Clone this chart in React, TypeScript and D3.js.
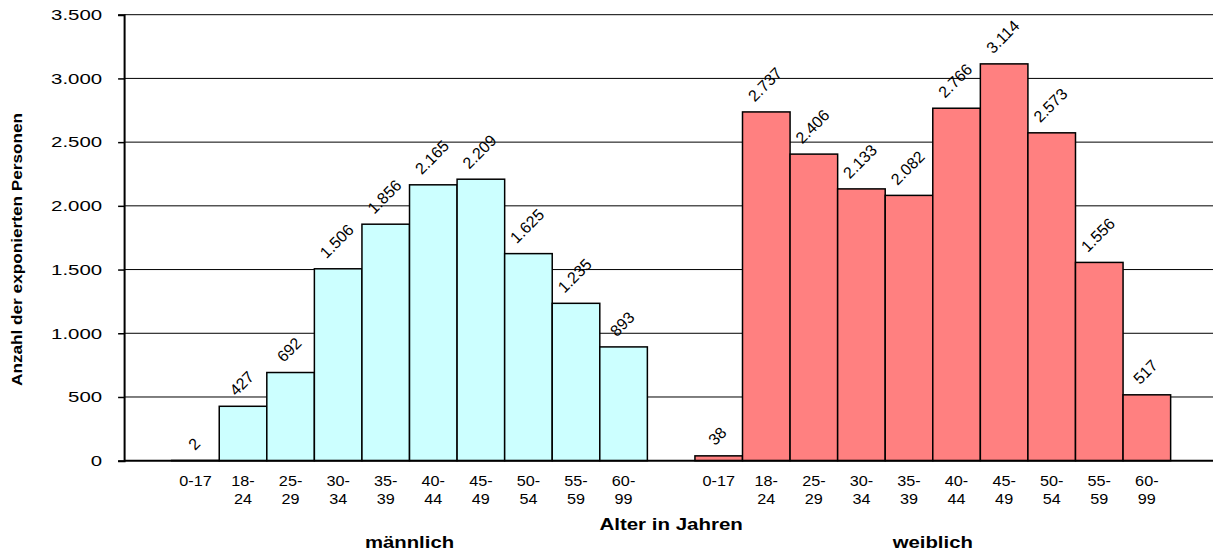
import * as d3 from 'd3';
import React, { useEffect, useRef } from 'react';

// Altersgruppen und Werte je Geschlecht
const ageGroups = ['0-17', '18-24', '25-29', '30-34', '35-39', '40-44', '45-49', '50-54', '55-59', '60-99'];
const maleValues = [2, 427, 692, 1506, 1856, 2165, 2209, 1625, 1235, 893];
const femaleValues = [38, 2737, 2406, 2133, 2082, 2766, 3114, 2573, 1556, 517];
const yTicks = [0, 500, 1000, 1500, 2000, 2500, 3000, 3500];
const groupLabels = ['männlich', 'weiblich'];
const groupColors = ['#ccffff', '#ff8080'];
const xTitle = 'Alter in Jahren';
const yTitle = 'Anzahl der exponierten Personen';

const width = 1213;
const height = 556;
const plot = { left: 124.1, right: 1218.2, top: 14.7, bottom: 460.7 };
const font = "'Liberation Sans', Arial, sans-serif";

const de = d3.formatLocale({ decimal: ',', thousands: '.', grouping: [3], currency: ['', ' €'] });
const fmt = de.format(',d');

// Text horizontal dehnen (Originalschrift läuft breiter)
const stretch = (sel: d3.Selection<SVGTextElement, any, any, any>, k: number) =>
  sel.each(function () {
    const w = this.getComputedTextLength();
    this.setAttribute('textLength', String(w * k));
    this.setAttribute('lengthAdjust', 'spacingAndGlyphs');
  });

const App = () => {
  const svgRef = useRef<SVGSVGElement>(null);

  useEffect(() => {
    const svg = d3.select(svgRef.current);
    svg.selectAll('*').remove();

    const slots = [
      'pad-l',
      ...ageGroups.map((a) => `m|${a}`),
      'gap',
      ...ageGroups.map((a) => `w|${a}`),
      'pad-r',
    ];
    const x = d3.scaleBand<string>().domain(slots).range([plot.left, plot.right]).padding(0);
    const y = d3.scaleLinear().domain([0, 3500]).range([plot.bottom, plot.top]);

    const bars = [
      ...ageGroups.map((a, i) => ({ key: `m|${a}`, age: a, value: maleValues[i], g: 0 })),
      ...ageGroups.map((a, i) => ({ key: `w|${a}`, age: a, value: femaleValues[i], g: 1 })),
    ];

    // Gitterlinien
    svg
      .append('g')
      .selectAll('line')
      .data(yTicks.filter((t) => t > 0))
      .join('line')
      .attr('x1', plot.left)
      .attr('x2', plot.right)
      .attr('y1', (d) => y(d))
      .attr('y2', (d) => y(d))
      .attr('stroke', '#000')
      .attr('stroke-width', 1);

    // Balken
    svg
      .append('g')
      .selectAll('rect')
      .data(bars)
      .join('rect')
      .attr('x', (d) => x(d.key)!)
      .attr('width', x.bandwidth())
      .attr('y', (d) => y(d.value))
      .attr('height', (d) => y(0) - y(d.value))
      .attr('fill', (d) => groupColors[d.g])
      .attr('stroke', '#000')
      .attr('stroke-width', 1.5);

    // y-Achse
    const yAxis = svg
      .append('g')
      .attr('transform', `translate(${plot.left},0)`)
      .call(d3.axisLeft(y).tickValues(yTicks).tickSize(6).tickPadding(16).tickFormat((d) => fmt(d as number)));
    yAxis.select('.domain').attr('stroke', '#000').attr('stroke-width', 2);
    yAxis.selectAll('.tick line').attr('stroke', '#000').attr('stroke-width', 1.5);
    const yLabels = yAxis
      .selectAll<SVGTextElement, unknown>('.tick text')
      .attr('font-family', font)
      .attr('font-size', 15)
      .attr('fill', '#000');
    stretch(yLabels, 1.36);

    // x-Grundlinie
    svg
      .append('line')
      .attr('x1', plot.left)
      .attr('x2', plot.right)
      .attr('y1', y(0))
      .attr('y2', y(0))
      .attr('stroke', '#000')
      .attr('stroke-width', 2);

    // x-Beschriftungen
    const xl = svg.append('g').attr('font-family', font).attr('font-size', 15).attr('text-anchor', 'middle');
    bars.forEach((b) => {
      const cx = x(b.key)! + x.bandwidth() / 2;
      const parts = b.age === '0-17' ? [b.age] : [b.age.split('-')[0] + '-', b.age.split('-')[1]];
      parts.forEach((p, j) => {
        const t = xl.append('text').attr('x', cx).attr('y', 486 + j * 17.5).text(p);
        stretch(t, 1.08);
      });
    });

    // Datenbeschriftungen (gedreht)
    const dl = svg.append('g').attr('font-family', font).attr('font-size', 16);
    bars.forEach((b) => {
      const cx = x(b.key)! + x.bandwidth() / 2;
      const g = dl.append('g');
      const t = g.append('text').attr('text-anchor', 'middle').attr('dy', '0.36em').text(fmt(b.value));
      const w = (t.node() as SVGTextElement).getComputedTextLength();
      const off = (w + 11.5) * 0.3536 + 9.5;
      g.attr('transform', `translate(${cx - 1.5},${y(b.value) - off}) rotate(-45)`);
    });

    // Achsentitel
    const xt = svg
      .append('text')
      .attr('x', (plot.left + plot.right) / 2)
      .attr('y', 530)
      .attr('text-anchor', 'middle')
      .attr('font-family', font)
      .attr('font-size', 16)
      .attr('font-weight', 'bold')
      .text(xTitle);
    stretch(xt, 1.28);

    groupLabels.forEach((lbl, i) => {
      const keys = bars.filter((b) => b.g === i).map((b) => b.key);
      const cx = (x(keys[0])! + x(keys[keys.length - 1])! + x.bandwidth()) / 2;
      const t = svg
        .append('text')
        .attr('x', cx)
        .attr('y', 548)
        .attr('text-anchor', 'middle')
        .attr('font-family', font)
        .attr('font-size', 16)
        .attr('font-weight', 'bold')
        .text(lbl);
      stretch(t, 1.27);
    });

    const yt = svg
      .append('text')
      .attr('transform', `translate(16.5,249.5) rotate(-90)`)
      .attr('text-anchor', 'middle')
      .attr('dy', '0.36em')
      .attr('font-family', font)
      .attr('font-size', 14.5)
      .attr('font-weight', 'bold')
      .text(yTitle);
    yt.attr('textLength', 273).attr('lengthAdjust', 'spacingAndGlyphs');
  }, []);

  return (
    <>
      <style>{'body{margin:0;background:#fff}'}</style>
      <svg ref={svgRef} width={width} height={height} style={{ display: 'block', overflow: 'hidden' }} />
    </>
  );
};

export default App;
